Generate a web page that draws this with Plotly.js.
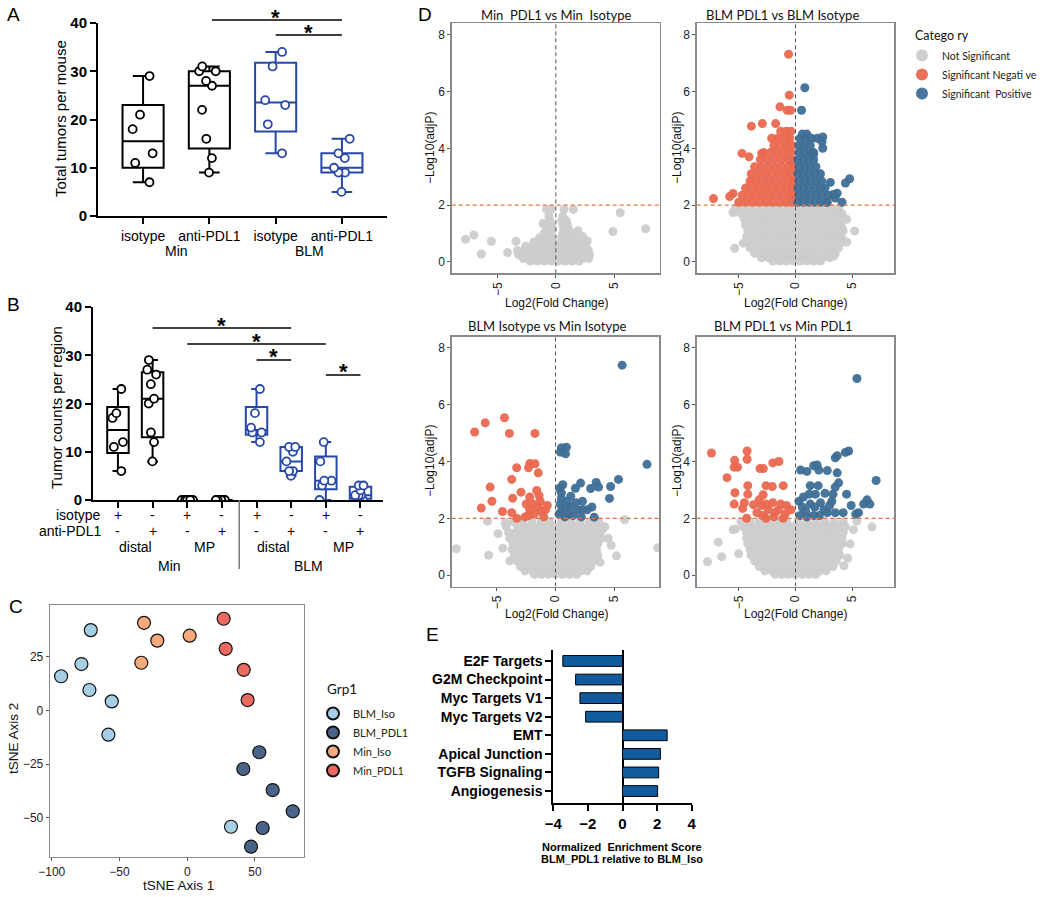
<!DOCTYPE html>
<html><head><meta charset="utf-8">
<script src="https://cdn.plot.ly/plotly-3.0.1.min.js"></script>
<style>html,body{margin:0;padding:0;background:#fff;}#chart{width:1050px;height:897px;}</style>
</head><body><div id="chart"></div>
<script>
// ---------------- Panel A data ----------------
const aCategories = ['isotype','anti-PDL1','isotype','anti-PDL1'];
const aGroupLabels = ['Min','BLM'];
const aMinIso = [29,21,18,13,11,7];
const aMinPdl1 = [31,30,30,28,27,22,16,12,9];
const aBlmIso = [34,31,24,23,19,13];
const aBlmPdl1 = [16,13,12,10,9,9,5];

// ---------------- Panel B data ----------------
const bIsotypeRow = ['+','-','+','-','+','-','+','-'];
const bPdl1Row = ['-','+','-','+','-','+','-','+'];
const bRegions = ['distal','MP','distal','MP'];
const bGroupLabels = ['Min','BLM'];
const bMinDistalIso = [23,18,17,12,11,6];
const bMinDistalPdl1 = [29,27,26,24,21,20,14,12,8];
const bMinMpIso = [0,0,0,0,0,0];
const bMinMpPdl1 = [0,0,0,0,0,0,0,0,0];
const bBlmDistalIso = [23,18,15,14,14,12];
const bBlmDistalPdl1 = [11,11,10,8,6,6,5];
const bBlmMpIso = [12,8,4,4,3,0];
const bBlmMpPdl1 = [3,3,2,1,1,1,0,0];

// ---------------- Panel C data ----------------
const cGroups = ['BLM_Iso','BLM_PDL1','Min_Iso','Min_PDL1'];
const cBlmIsoX = [-71.2,-78.1,-93.1,-72.2,-55.7,-58.2,32.3];
const cBlmIsoY = [37.4,21.6,15.9,9.5,4.2,-11.3,-54.2];
const cBlmPdl1X = [53.2,41.4,63.1,77.9,55.7,47.1];
const cBlmPdl1Y = [-19.5,-27.3,-37.1,-47.0,-54.8,-63.5];
const cMinIsoX = [-31.9,-22.1,1.8,-33.9];
const cMinIsoY = [40.8,32.5,34.8,22.2];
const cMinPdl1X = [26.9,28.4,41.7,44.6];
const cMinPdl1Y = [42.7,28.7,18.9,4.8];

// ---------------- Panel D data (log2FC, -log10 adjP) ----------------
const dTitles = ['Min  PDL1 vs Min  Isotype','BLM PDL1 vs BLM Isotype','BLM Isotype vs Min Isotype','BLM PDL1 vs Min PDL1'];
const dCategories = ['Not Significant','Significant Negati ve','Significant  Positive'];
// rows: [y, [x values]]  (dense clouds read row by row), pairs: [x, y]
const d1NotSigRows = [
 [0.03,[-2.2,-1.6,-1.0,-0.4,0.2,0.8,1.4,2.0]],
 [0.12,[-2.8,-2.3,-1.8,-1.3,-0.7,-0.1,0.5,1.1,1.7,2.3,2.8]],
 [0.25,[-3.2,-2.8,-2.4,-1.9,-1.4,-0.8,-0.2,0.3,0.9,1.5,2.0,2.5,2.9]],
 [0.4,[-3.3,-2.7,-2.2,-1.6,-1.1,-0.5,0.1,0.6,1.2,1.7,2.3,2.8]],
 [0.55,[-2.6,-2.0,-1.4,-0.8,-0.3,0.4,1.0,1.6,2.1,2.6]],
 [0.7,[-1.9,-1.3,-0.7,-0.2,0.5,1.1,1.7,2.4]],
 [0.85,[-1.4,-0.9,-0.4,0.5,1.1,1.6]],
 [1.0,[-1.0,-0.5,0.6,1.0,1.5]],
 [1.15,[-0.8,-0.3,0.7,1.1]],
 [1.3,[-0.9,-0.4,0.6,1.0]],
 [1.45,[-0.5,0.5,0.9]],
 [1.6,[-0.6,0.6]]
];
const d1NotSigPairs = [[-0.8,1.85],[-0.4,1.85],[0.7,1.85],[1.5,1.85],[-1.1,1.35],[2.7,0.75],[2.3,0.9],[1.9,1.1],
 [-7.76,0.80],[-7.04,0.95],[-6.4,0.28],[-5.54,0.73],[-4.15,0.33],[-3.43,0.73],[4.9,1.07],[5.53,1.73],[7.72,1.17]];

const d2NotSigRows = [
 [0.03,[-2.0,-1.4,-0.8,-0.2,0.4,1.0,1.6,2.2]],
 [0.15,[-3.0,-2.4,-1.8,-1.2,-0.6,0.0,0.6,1.2,1.8,2.4,3.0]],
 [0.3,[-3.6,-3.0,-2.4,-1.8,-1.2,-0.6,0.0,0.6,1.2,1.8,2.4,3.0,3.5]],
 [0.5,[-4.0,-3.4,-2.8,-2.2,-1.6,-1.0,-0.4,0.2,0.8,1.4,2.0,2.6,3.2,3.8]],
 [0.7,[-4.2,-3.6,-3.0,-2.4,-1.8,-1.2,-0.6,0.0,0.6,1.2,1.8,2.4,3.0,3.6,4.1]],
 [0.9,[-4.3,-3.7,-3.1,-2.5,-1.9,-1.3,-0.7,-0.1,0.5,1.1,1.7,2.3,2.9,3.5,4.0]],
 [1.1,[-4.2,-3.6,-3.0,-2.4,-1.8,-1.2,-0.6,0.0,0.6,1.2,1.8,2.4,3.0,3.6,4.2]],
 [1.3,[-4.4,-3.8,-3.2,-2.6,-2.0,-1.4,-0.8,-0.2,0.4,1.0,1.6,2.2,2.8,3.4,4.0]],
 [1.5,[-4.5,-3.9,-3.3,-2.7,-2.1,-1.5,-0.9,-0.3,0.3,0.9,1.5,2.1,2.7,3.3,3.9]],
 [1.7,[-4.8,-4.2,-3.6,-3.0,-2.4,-1.8,-1.2,-0.6,0.0,0.6,1.2,1.8,2.4,3.0,3.6,4.1]],
 [1.88,[-5.3,-4.6,-4.0,-3.4,-2.8,-2.2,-1.6,-1.0,-0.4,0.2,0.8,1.4,2.0,2.6,3.2,3.8]]
];
const d2NotSigPairs = [[-5.35,0.48],[-4.6,0.66],[-5.5,1.74],[-5.0,1.8],[5.2,1.09],[4.03,0.85],[3.36,0.21],[4.1,1.2],[3.8,1.73],[4.5,0.7],[4.5,1.5]];
const d2NegRows = [
 [2.1,[-5.0,-4.4,-3.8,-3.2,-2.6,-2.0,-1.4,-0.8,-0.3]],
 [2.35,[-4.7,-4.1,-3.5,-2.9,-2.3,-1.7,-1.1,-0.5,-0.2]],
 [2.6,[-4.4,-3.8,-3.2,-2.6,-2.0,-1.4,-0.8,-0.3]],
 [2.85,[-4.0,-3.5,-2.9,-2.3,-1.7,-1.1,-0.5,-0.2]],
 [3.1,[-3.9,-3.3,-2.7,-2.1,-1.5,-0.9,-0.4]],
 [3.35,[-3.6,-3.0,-2.4,-1.8,-1.2,-0.6,-0.2]],
 [3.6,[-3.1,-2.5,-1.9,-1.3,-0.7,-0.3]],
 [3.85,[-2.8,-2.2,-1.6,-1.0,-0.4]],
 [4.1,[-1.9,-1.3,-0.8,-0.3]],
 [4.35,[-2.1,-1.6,-1.0,-0.5]],
 [4.6,[-1.3,-0.8,-0.4]]
];
const d2NegPairs = [[-7.22,2.23],[-5.5,2.41],[-5.8,2.3],[-4.71,3.82],[-4.09,3.7],[-3.89,4.78],[-2.92,4.87],[-2.98,3.82],
 [-1.75,4.87],[-1.37,5.46],[-0.55,5.87],[-0.73,5.34],[-0.44,5.34],[-0.61,7.31]];
const d2PosRows = [
 [2.1,[0.2,0.7,1.2,1.7,2.2,2.7]],
 [2.35,[0.3,0.8,1.3,1.8,2.3,2.9]],
 [2.6,[0.2,0.7,1.2,1.7,2.2,2.6]],
 [2.85,[0.3,0.8,1.3,1.8,2.3]],
 [3.1,[0.2,0.7,1.2,1.7,2.2]],
 [3.35,[0.3,0.8,1.3,1.8]],
 [3.6,[0.2,0.7,1.2,1.6]],
 [3.85,[0.3,0.8,1.3,1.6]],
 [4.1,[0.3,0.8,1.3]],
 [4.35,[0.4,0.9,1.4,1.9]],
 [4.5,[0.6,1.0]]
];
const d2PosPairs = [[0.82,6.13],[0.53,5.34],[3.07,2.8],[4.77,2.93],[4.4,2.78],[3.67,2.42],[3.3,2.37],[4.1,2.1],[2.8,2.1],
 [3.5,2.25],[2.34,4.23],[2.4,4.0],[1.6,3.8],[2.4,4.4]];

const d3NotSigRows = [
 [0.03,[-1.8,-1.2,-0.6,0.0,0.6,1.2,1.8]],
 [0.15,[-2.6,-2.0,-1.4,-0.8,-0.2,0.4,1.0,1.6,2.2,2.7]],
 [0.3,[-3.0,-2.4,-1.8,-1.2,-0.6,0.0,0.6,1.2,1.8,2.4,3.0]],
 [0.5,[-3.3,-2.7,-2.1,-1.5,-0.9,-0.3,0.3,0.9,1.5,2.1,2.7,3.3]],
 [0.7,[-3.5,-2.9,-2.3,-1.7,-1.1,-0.5,0.1,0.7,1.3,1.9,2.5,3.1,3.6]],
 [0.9,[-3.7,-3.1,-2.5,-1.9,-1.3,-0.7,-0.1,0.5,1.1,1.7,2.3,2.9,3.5]],
 [1.1,[-3.6,-3.0,-2.4,-1.8,-1.2,-0.6,0.0,0.6,1.2,1.8,2.4,3.0,3.6]],
 [1.3,[-3.9,-3.3,-2.7,-2.1,-1.5,-0.9,-0.3,0.3,0.9,1.5,2.1,2.7,3.3,3.9]],
 [1.5,[-4.0,-3.4,-2.8,-2.2,-1.6,-1.0,-0.4,0.2,0.8,1.4,2.0,2.6,3.2,3.8]],
 [1.7,[-4.2,-3.2,-2.6,-2.0,-1.4,-0.8,-0.2,0.4,1.0,1.6,2.2,2.8,3.4,4.2]],
 [1.88,[-3.6,-2.8,-2.0,-1.2,-0.5,0.5,1.3,2.1,2.9,3.7]]
];
const d3NotSigPairs = [[-8.45,0.93],[-5.7,0.7],[-4.9,1.46],[-5.8,1.9],[-4.5,0.95],[-3.9,0.5],[5.9,1.95],[5.2,0.68],
 [4.75,1.05],[8.7,0.96],[4.0,1.6],[4.5,1.3],[3.8,0.45],[-4.3,1.85]];
const d3NegPairs = [[-6.9,5.04],[-5.99,5.36],[-4.35,5.54],[-3.93,4.99],[-1.75,4.99],[-2.18,3.93],[-1.75,3.92],[-2.3,3.78],
 [-1.47,3.6],[-3.31,3.78],[-3.73,3.37],[-5.57,3.1],[-2.94,2.92],[-1.6,2.98],[-3.65,2.71],[-5.42,2.6],[-6.33,2.36],
 [-4.52,2.24],[-3.73,2.2],[-2.2,2.75],[-1.9,2.5],[-2.2,2.3],[-1.5,2.4],[-1.8,2.15],[-1.2,2.25],[-2.3,2.1],[-0.85,2.3],
 [-0.7,2.45],[-1.4,2.8],[-3.3,2.0],[-2.6,2.05],[-1.0,2.05],[-2.5,2.5],[-1.3,2.6]];
const d3PosPairs = [[5.68,7.39],[7.8,3.9],[0.5,4.48],[0.93,4.5],[0.42,4.33],[0.85,4.27],[5.37,3.37],[4.7,3.12],[3.47,3.26],
 [3.67,3.1],[3.0,3.05],[2.14,3.24],[1.7,3.06],[0.62,3.18],[0.34,3.06],[4.6,2.7],[3.1,2.4],[2.7,2.3],[2.3,2.3],[1.74,2.55],
 [1.3,2.78],[1.86,2.3],[3.3,2.04],[0.5,2.7],[0.4,2.5],[0.5,2.25],[0.8,2.05],[1.0,2.6],[0.5,2.9],[1.1,2.15],[0.3,2.15],
 [1.3,2.4],[2.3,2.6],[1.5,2.1],[2.2,2.05],[0.9,2.4]];

const d4NotSigRows = [
 [0.03,[-1.8,-1.2,-0.6,0.0,0.6,1.2,1.8]],
 [0.15,[-2.7,-2.1,-1.5,-0.9,-0.3,0.3,0.9,1.5,2.1,2.7]],
 [0.3,[-3.2,-2.6,-2.0,-1.4,-0.8,-0.2,0.4,1.0,1.6,2.2,2.8,3.3]],
 [0.5,[-3.6,-3.0,-2.4,-1.8,-1.2,-0.6,0.0,0.6,1.2,1.8,2.4,3.0,3.6]],
 [0.7,[-3.9,-3.3,-2.7,-2.1,-1.5,-0.9,-0.3,0.3,0.9,1.5,2.1,2.7,3.3,3.9]],
 [0.9,[-4.0,-3.4,-2.8,-2.2,-1.6,-1.0,-0.4,0.2,0.8,1.4,2.0,2.6,3.2,3.8]],
 [1.1,[-4.2,-3.6,-3.0,-2.4,-1.8,-1.2,-0.6,0.0,0.6,1.2,1.8,2.4,3.0,3.6,4.1]],
 [1.3,[-4.3,-3.7,-3.1,-2.5,-1.9,-1.3,-0.7,-0.1,0.5,1.1,1.7,2.3,2.9,3.5,4.1]],
 [1.5,[-4.3,-3.7,-3.1,-2.5,-1.9,-1.3,-0.7,-0.1,0.5,1.1,1.7,2.3,2.9,3.5,4.2]],
 [1.7,[-4.6,-4.0,-3.4,-2.8,-2.2,-1.6,-1.0,-0.4,0.2,0.8,1.4,2.0,2.6,3.2,3.8,4.4]],
 [1.88,[-4.8,-4.0,-3.2,-2.4,-1.6,-0.8,0.2,1.0,1.8,2.6,3.4,4.2]]
];
const d4NotSigPairs = [[-7.75,0.47],[-6.5,0.65],[-6.8,1.16],[-5.5,1.6],[-5.3,1.62],[-5.0,0.75],[6.73,1.7],[5.1,1.6],
 [4.26,0.33],[4.8,1.1],[5.4,1.9],[4.6,0.6]];
const d4NegPairs = [[-7.4,4.3],[-5.36,4.04],[-4.26,4.37],[-4.26,4.08],[-5.4,3.8],[-5.1,3.8],[-6.03,3.43],[-3.13,3.75],
 [-2.83,3.75],[-2.0,3.95],[-1.46,4.0],[-4.2,3.15],[-2.6,3.15],[-2.05,3.12],[-1.08,3.15],[-5.33,2.9],[-4.2,2.85],
 [-2.85,2.83],[-5.4,2.5],[-4.65,2.35],[-3.7,2.48],[-3.0,2.45],[-2.6,2.5],[-2.4,2.3],[-1.8,2.2],[-1.5,2.3],[-0.9,2.15],
 [-0.4,2.3],[-4.3,2.0],[-3.4,2.2],[-2.9,2.1],[-2.0,2.55],[-1.3,2.5],[-0.8,2.45],[-3.2,2.65],[-4.5,2.55],[-1.9,2.05],
 [-2.6,2.0],[-1.1,2.0]];
const d4PosPairs = [[5.41,6.92],[4.68,4.37],[4.39,4.32],[3.67,4.2],[3.5,4.13],[7.1,3.33],[0.45,3.7],[1.0,3.65],[1.6,3.85],
 [1.9,3.88],[2.05,3.7],[2.8,3.68],[3.67,3.6],[3.8,3.25],[3.5,3.1],[1.3,3.15],[2.0,3.15],[1.2,2.85],[1.75,2.85],[2.6,2.88],
 [3.3,2.85],[4.5,2.85],[6.3,2.65],[6.0,2.5],[6.55,2.5],[4.9,2.45],[5.3,2.15],[5.55,2.2],[4.2,2.2],[3.5,2.2],[2.8,2.2],
 [0.3,2.6],[0.6,2.4],[0.9,2.25],[1.3,2.5],[1.7,2.4],[2.2,2.55],[2.5,2.3],[3.0,2.45],[0.4,2.1],[1.0,2.05],[1.6,2.1],
 [2.1,2.1],[3.2,2.6],[0.7,2.75]];

// ---------------- Panel E data ----------------
const eSets = ['E2F Targets','G2M Checkpoint','Myc Targets V1','Myc Targets V2','EMT','Apical Junction','TGFB Signaling','Angiogenesis'];
const eNES = [-3.45,-2.71,-2.46,-2.13,2.58,2.19,2.09,2.03];

// ---------------- helpers ----------------
const W = 1050, H = 897;
const PX = v => v / W;
const PY = v => 1 - v / H;
const LF = 'Liberation Sans, Arial, sans-serif';
const LATO = 'Lato, Liberation Sans, sans-serif';
const BLACK = '#000000', BLUE = '#2748a8';

function gpQuantile(s, p) {
  const n = s.length; let pos = (n + 1) * p;
  if (pos <= 1) return s[0];
  if (pos >= n) return s[n - 1];
  const lo = Math.floor(pos), f = pos - lo;
  return s[lo - 1] + f * (s[lo] - s[lo - 1]);
}
function stats(v) {
  const s = [...v].sort((a, b) => a - b);
  return {q1: gpQuantile(s, .25), med: gpQuantile(s, .5), q3: gpQuantile(s, .75), lo: s[0], hi: s[s.length - 1]};
}
function boxTrace(groups, pos, color, xa, ya) {
  const st = groups.map(stats);
  return {type: 'box', x: pos, q1: st.map(s => s.q1), median: st.map(s => s.med), q3: st.map(s => s.q3),
    lowerfence: st.map(s => s.lo), upperfence: st.map(s => s.hi), xaxis: xa, yaxis: ya,
    width: 0.62, whiskerwidth: 0.5, line: {color: color, width: 2}, fillcolor: 'rgba(0,0,0,0)',
    boxpoints: false, showlegend: false, hoverinfo: 'skip'};
}
function pointTrace(groups, pos, color, xa, ya) {
  const x = [], y = [];
  groups.forEach((g, i) => g.forEach(v => { x.push(pos[i]); y.push(v); }));
  return {type: 'box', x: x, y: y, xaxis: xa, yaxis: ya, width: 0.62, boxpoints: 'all', jitter: 0.6, pointpos: 0,
    line: {color: 'rgba(0,0,0,0)', width: 0}, fillcolor: 'rgba(0,0,0,0)', whiskerwidth: 0,
    marker: {symbol: 'circle', size: 8, color: '#ffffff', line: {color: color, width: 1.8}},
    showlegend: false, hoverinfo: 'skip'};
}
function expand(rows, pairs) {
  const x = [], y = [];
  (rows || []).forEach(r => r[1].forEach(v => { x.push(v); y.push(r[0]); }));
  (pairs || []).forEach(p => { x.push(p[0]); y.push(p[1]); });
  return {x, y};
}
const D_COLORS = ['rgb(204,204,204)', 'rgb(234,104,80)', 'rgb(62,110,150)'];
const legendShown = [false, false, false];
function volcano(k, sets) {
  return sets.map(([cat, rows, pairs]) => {
    const p = expand(rows, pairs);
    const show = !legendShown[cat]; legendShown[cat] = true;
    return {type: 'scatter', mode: 'markers', x: p.x, y: p.y, xaxis: 'x' + k, yaxis: 'y' + k,
      name: dCategories[cat], legend: 'legend2', legendgroup: 'd' + cat, showlegend: show,
      marker: {size: 9, color: D_COLORS[cat], opacity: 0.95}, hoverinfo: 'skip'};
  });
}

// ---------------- traces ----------------
const traces = [];
// A
traces.push(boxTrace([aMinIso, aMinPdl1], [0, 1], BLACK, 'x', 'y'));
traces.push(boxTrace([aBlmIso, aBlmPdl1], [2, 3], BLUE, 'x', 'y'));
traces.push(pointTrace([aMinIso, aMinPdl1], [0, 1], BLACK, 'x', 'y'));
traces.push(pointTrace([aBlmIso, aBlmPdl1], [2, 3], BLUE, 'x', 'y'));
// B
traces.push(boxTrace([bMinDistalIso, bMinDistalPdl1, bMinMpIso, bMinMpPdl1], [0, 1, 2, 3], BLACK, 'x2', 'y2'));
traces.push(boxTrace([bBlmDistalIso, bBlmDistalPdl1, bBlmMpIso, bBlmMpPdl1], [4, 5, 6, 7], BLUE, 'x2', 'y2'));
traces.push(pointTrace([bMinDistalIso, bMinDistalPdl1, bMinMpIso, bMinMpPdl1], [0, 1, 2, 3], BLACK, 'x2', 'y2'));
traces.push(pointTrace([bBlmDistalIso, bBlmDistalPdl1, bBlmMpIso, bBlmMpPdl1], [4, 5, 6, 7], BLUE, 'x2', 'y2'));
// C
const cColors = ['#a6cfe6', '#4a6489', '#f6a97a', '#ea6a61'];
[[cBlmIsoX, cBlmIsoY], [cBlmPdl1X, cBlmPdl1Y], [cMinIsoX, cMinIsoY], [cMinPdl1X, cMinPdl1Y]].forEach((d, i) => {
  traces.push({type: 'scatter', mode: 'markers', x: d[0], y: d[1], xaxis: 'x3', yaxis: 'y3', name: cGroups[i],
    legend: 'legend', marker: {size: 13, color: cColors[i], line: {color: '#111', width: 1.2}}, hoverinfo: 'skip'});
});
// D
traces.push(...volcano(4, [[0, d1NotSigRows, d1NotSigPairs]]));
traces.push(...volcano(5, [[0, d2NotSigRows, d2NotSigPairs], [1, d2NegRows, d2NegPairs], [2, d2PosRows, d2PosPairs]]));
traces.push(...volcano(6, [[0, d3NotSigRows, d3NotSigPairs], [1, null, d3NegPairs], [2, null, d3PosPairs]]));
traces.push(...volcano(7, [[0, d4NotSigRows, d4NotSigPairs], [1, null, d4NegPairs], [2, null, d4PosPairs]]));
// E
traces.push({type: 'bar', orientation: 'h', x: eNES, y: eSets, xaxis: 'x8', yaxis: 'y8', width: 0.58,
  marker: {color: '#125a9e', line: {color: '#000', width: 1}}, showlegend: false, hoverinfo: 'skip'});

// ---------------- axes ----------------
const gpAxis = (extra) => Object.assign({showline: true, linecolor: '#000', linewidth: 2, ticks: 'outside', ticklen: 6,
  tickwidth: 2, tickcolor: '#000', showgrid: false, zeroline: false, fixedrange: true}, extra);
const ggAxis = (extra) => Object.assign({showline: true, mirror: true, linecolor: '#8a8a8a', linewidth: 1.3, ticks: 'outside',
  ticklen: 3, tickwidth: 1, tickcolor: '#555', showgrid: false, zeroline: false, fixedrange: true,
  tickfont: {family: LF, size: 12, color: '#222'}}, extra);

const layout = {
  width: W, height: H, margin: {l: 0, r: 0, t: 0, b: 0}, paper_bgcolor: '#fff', plot_bgcolor: 'rgba(0,0,0,0)',
  font: {family: LF, color: '#000'}, boxmode: 'overlay', showlegend: true,
  xaxis: gpAxis({domain: [PX(98), PX(387)], range: [-0.68, 3.68], anchor: 'y', tickvals: [0, 1, 2, 3], ticktext: aCategories,
    tickfont: {family: LF, size: 14, color: '#000'}}),
  yaxis: gpAxis({domain: [PY(216), PY(23)], range: [0, 40], anchor: 'x', tickvals: [0, 10, 20, 30, 40],
    tickfont: {family: LF, size: 15, color: '#000', weight: 'bold'}}),
  xaxis2: gpAxis({domain: [PX(93), PX(383)], range: [-0.72, 7.65], anchor: 'y2', tickvals: [0, 1, 2, 3, 4, 5, 6, 7], showticklabels: false}),
  yaxis2: gpAxis({domain: [PY(500), PY(307)], range: [0, 40], anchor: 'x2', tickvals: [0, 10, 20, 30, 40],
    tickfont: {family: LF, size: 15, color: '#000', weight: 'bold'}}),
  xaxis3: ggAxis({domain: [PX(50), PX(304)], range: [-101.3, 86.2], anchor: 'y3', tickvals: [-100, -50, 0, 50]}),
  yaxis3: ggAxis({domain: [PY(857), PY(605)], range: [-68.3, 49.1], anchor: 'x3', tickvals: [-50, -25, 0, 25]}),
  xaxis8: gpAxis({domain: [PX(553.3), PX(691.7)], range: [-4, 4], anchor: 'y8', tickvals: [-4, -2, 0, 2, 4],
    zeroline: true, zerolinecolor: '#000', zerolinewidth: 2, tickfont: {family: LF, size: 15, color: '#000', weight: 'bold'}}),
  yaxis8: gpAxis({domain: [PY(803.3), PY(650)], type: 'category', categoryorder: 'array', categoryarray: eSets,
    range: [7.66, -0.59], anchor: 'x8', ticklen: 6, tickfont: {family: LF, size: 14, color: '#000', weight: 'bold'}}),
  legend: {x: PX(313), y: PY(699), xanchor: 'left', yanchor: 'top', bgcolor: 'rgba(0,0,0,0)', borderwidth: 0,
    itemsizing: 'constant', font: {family: LATO, size: 11, color: '#222'}, tracegroupgap: 0},
  legend2: {x: PX(902), y: PY(41), xanchor: 'left', yanchor: 'top', bgcolor: 'rgba(0,0,0,0)', borderwidth: 0,
    itemsizing: 'constant', font: {family: LATO, size: 10.5, color: '#222'}, tracegroupgap: 0},
  annotations: [], shapes: []
};
// D axes
const dX = [[451.7, 660, 8.95], [696.7, 894.3, 8.7], [451.7, 659.3, 8.85], [696.7, 894.3, 8.7]];
const dY = [[273.3, 23.3], [273.3, 23.3], [586.5, 336.5], [586.5, 336.5]];
for (let i = 0; i < 4; i++) {
  const k = i + 4;
  layout['xaxis' + k] = ggAxis({domain: [PX(dX[i][0]), PX(dX[i][1])], range: [-dX[i][2], dX[i][2]], anchor: 'y' + k,
    tickvals: [-5, 0, 5], tickangle: -90});
  layout['yaxis' + k] = ggAxis({domain: [PY(dY[i][0]), PY(dY[i][1])], range: [-0.4, 8.4], anchor: 'x' + k,
    tickvals: [0, 2, 4, 6, 8]});
  layout.shapes.push({type: 'line', xref: 'x' + k, yref: 'y' + k, x0: 0, x1: 0, y0: -0.4, y1: 8.4,
    line: {color: '#555', width: 1, dash: '4px,3px'}});
  layout.shapes.push({type: 'line', xref: 'x' + k, yref: 'y' + k, x0: -dX[i][2], x1: dX[i][2], y0: 2, y1: 2,
    line: {color: '#e8743b', width: 1.2, dash: '4px,3px'}});
}

// ---------------- annotations ----------------
const A = layout.annotations;
function txt(text, x, y, o) {
  A.push(Object.assign({text: text, x: PX(x), y: PY(y), xref: 'paper', yref: 'paper', showarrow: false,
    xanchor: 'center', yanchor: 'middle', font: {family: LF, size: 14, color: '#000'}}, o || {}));
}
function dataTxt(text, xref, x, y, o) {
  A.push(Object.assign({text: text, x: x, y: PY(y), xref: xref, yref: 'paper', showarrow: false,
    xanchor: 'center', yanchor: 'middle', font: {family: LF, size: 14, color: '#000'}}, o || {}));
}
// panel letters
[['A', 5, 14], ['B', 5, 305], ['C', 7, 606], ['D', 416, 14], ['E', 424, 634]].forEach(l =>
  txt(l[0], l[1], l[2], {xanchor: 'left', font: {family: LF, size: 19, color: '#000'}}));
// A
txt(aGroupLabels[0], 176, 251); txt(aGroupLabels[1], 309, 251);
txt('Total tumors per mouse', 60, 119, {textangle: -90, font: {family: LF, size: 15, color: '#000'}});
const star = {font: {family: LF, size: 22, color: '#000', weight: 'bold'}};
function sig(xref, x0, x1, yPix, starX) {
  layout.shapes.push({type: 'line', xref: xref, yref: 'paper', x0: x0, x1: x1, y0: PY(yPix), y1: PY(yPix),
    line: {color: '#000', width: 1.6}});
  dataTxt('*', xref, starX, yPix - 3, star);
}
sig('x', 1.04, 3, 20, 2.0);
sig('x', 2.0, 3, 35, 2.5);
// B
txt('isotype', 103, 515, {xanchor: 'right'});
txt('anti-PDL1', 103, 531, {xanchor: 'right'});
bIsotypeRow.forEach((s, i) => dataTxt(s, 'x2', i, 515));
bPdl1Row.forEach((s, i) => dataTxt(s, 'x2', i, 531));
bRegions.forEach((s, i) => dataTxt(s, 'x2', 2 * i + 0.5, 547));
bGroupLabels.forEach((s, i) => dataTxt(s, 'x2', 4 * i + 1.5, 566));
layout.shapes.push({type: 'line', xref: 'x2', yref: 'paper', x0: 3.5, x1: 3.5, y0: PY(500), y1: PY(569),
  line: {color: '#777', width: 1.5}});
txt('Tumor counts per region', 57, 408, {textangle: -90, font: {family: LF, size: 15, color: '#000'}});
sig('x2', 1, 5, 328, 3);
sig('x2', 2, 6, 344, 4);
sig('x2', 4, 5, 360, 4.5);
sig('x2', 6, 7, 375, 6.5);
// C
txt('tSNE Axis 1', 178, 885, {font: {family: LF, size: 13.5, color: '#111'}});
txt('tSNE Axis 2', 13, 739, {textangle: -90, font: {family: LF, size: 13.5, color: '#111'}});
txt('Grp1', 325, 689, {xanchor: 'left', font: {family: LATO, size: 13.5, color: '#111'}});
// D
const dTitlePos = [[556, 15], [782, 15], [547, 326], [783, 326]];
dTitles.forEach((t, i) => txt(t, dTitlePos[i][0], dTitlePos[i][1], {font: {family: LATO, size: 13, color: '#111'}}));
[[430, 148], [677, 148], [430, 461], [677, 461]].forEach(p =>
  txt('\u2212Log10(adjP)', p[0], p[1], {textangle: -90, font: {family: LF, size: 12, color: '#111'}}));
[[556, 303], [795, 303], [556, 614], [795, 614]].forEach(p =>
  txt('Log2(Fold Change)', p[0], p[1], {font: {family: LF, size: 12, color: '#111'}}));
txt('Catego ry', 913, 35, {xanchor: 'left', font: {family: LATO, size: 12.5, color: '#111'}});
// E
txt('Normalized  Enrichment Score', 622, 847, {font: {family: LF, size: 11, color: '#000', weight: 'bold'}});
txt('BLM_PDL1 relative to BLM_Iso', 622, 859, {font: {family: LF, size: 11, color: '#000', weight: 'bold'}});

Plotly.newPlot('chart', traces, layout, {displayModeBar: false, staticPlot: true});
</script>
</body></html>
